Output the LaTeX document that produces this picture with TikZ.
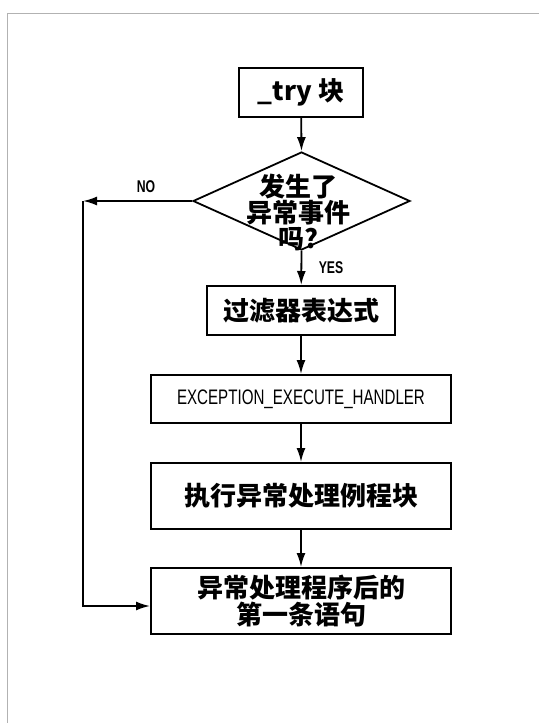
\documentclass[tikz,border=0pt]{standalone}
\usepackage{fontspec}
\setmainfont{Noto Sans CJK SC}
\newfontfamily\cjk{Noto Sans CJK SC}
\newfontfamily\lab{Liberation Sans}[FakeStretch=0.72]
\usetikzlibrary{arrows.meta,shapes.geometric}
\begin{document}
\begin{tikzpicture}[x=1pt,y=-1pt,
  box/.style={draw,line width=2pt,rectangle,inner sep=0pt},
  cn/.style={font=\cjk\bfseries\fontsize{26}{27}\selectfont},
  lb/.style={font=\lab\bfseries\fontsize{17}{17}\selectfont},
  conn/.style={line width=1.8pt,-{Latex[length=14pt,width=9pt]}}]
\useasboundingbox (0,0) rectangle (539,723);
\draw[gray!60,line width=0.8pt] (539,13) -- (7,13) -- (7,723);
% nodes
\node[box,minimum width=124pt,minimum height=49pt,cn] (try) at (301,92.5) {\_try 块};
\node[draw,line width=1.8pt,diamond,inner sep=0pt,minimum width=217pt,minimum height=98pt] (dec) at (301.5,201) {};
\node[cn,align=center,inner sep=0pt] (dect) at (298,212) {发生了\\[-1pt]异常事件\\[-1pt]吗?};
\node[box,minimum width=188pt,minimum height=49pt,cn] (flt) at (301,310.5) {过滤器表达式};
\node[box,minimum width=300pt,minimum height=48pt,font=\lab\fontsize{21}{21}\selectfont] (exc) at (301,399) {EXCEPTION\_EXECUTE\_HANDLER};
\node[box,minimum width=300pt,minimum height=66pt,cn] (hdl) at (301,496) {执行异常处理例程块};
\node[box,minimum width=300pt,minimum height=66pt,cn,align=center] (nxt) at (301,601) {异常处理程序后的\\第一条语句};
\coordinate (c1) at (83,201);
\node[lb] (no) at (146,187) {NO};
\node[lb] (yes) at (331,268) {YES};
% connectors
\draw[conn] (try) -- (dec.north);
\draw[conn] (dec.south) -- (flt);
\draw[conn] (flt) -- (exc);
\draw[conn] (exc) -- (hdl);
\draw[conn] (hdl) -- (nxt);
\draw[conn] (dec.west) -- (c1);
\draw[conn] (c1) |- ([yshift=-5pt]nxt.west);
\end{tikzpicture}
\end{document}
